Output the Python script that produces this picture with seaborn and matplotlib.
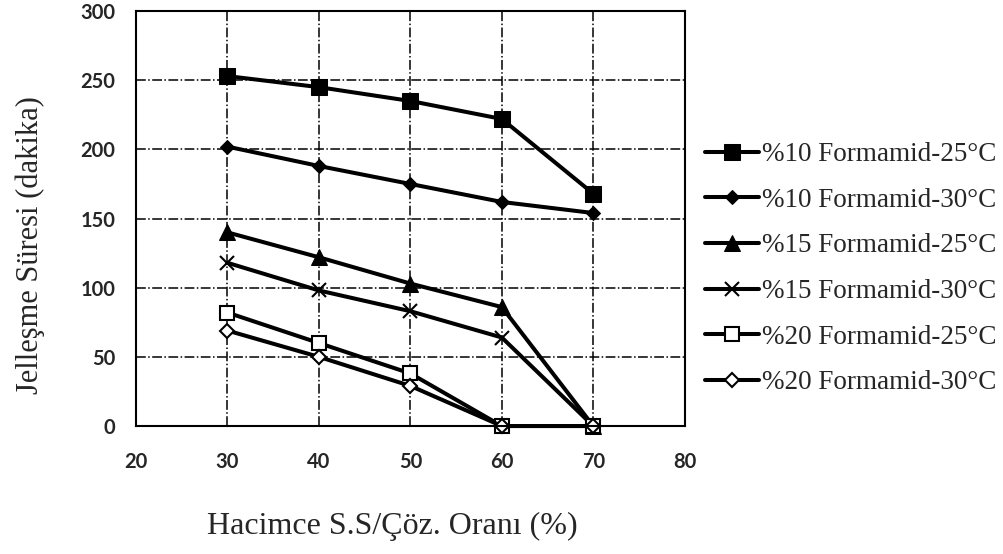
import matplotlib
matplotlib.use("Agg")
import matplotlib.pyplot as plt
import seaborn as sns
import pandas as pd

x_vals = [30, 40, 50, 60, 70]
s10_25 = [253, 245, 235, 222, 168]
s10_30 = [202, 188, 175, 162, 154]
s15_25 = [140, 122, 103, 86, 0]
s15_30 = [118, 98, 83, 64, 0]
s20_25 = [82, 60, 38, 0, 0]
s20_30 = [69, 50, 29, 0, 0]
labels = ["%10 Formamid-25°C", "%10 Formamid-30°C", "%15 Formamid-25°C",
          "%15 Formamid-30°C", "%20 Formamid-25°C", "%20 Formamid-30°C"]
series = [s10_25, s10_30, s15_25, s15_30, s20_25, s20_30]
x_ticks = [20, 30, 40, 50, 60, 70, 80]
y_ticks = [0, 50, 100, 150, 200, 250, 300]

sns.set_style("white")
fig = plt.figure(figsize=(10.04, 5.54), dpi=100)
ax = fig.add_axes([0.1355, 0.231, 0.5465, 0.749])

styles = [
    dict(marker="s", markersize=11, markerfacecolor="black", markeredgecolor="black"),
    dict(marker="D", markersize=7.5, markerfacecolor="black", markeredgecolor="black"),
    dict(marker="^", markersize=11, markerfacecolor="black", markeredgecolor="black"),
    dict(marker="x", markersize=10, markeredgewidth=1.5, markeredgecolor="black"),
    dict(marker="s", markersize=10, markerfacecolor="white", markeredgecolor="black", markeredgewidth=1.5),
    dict(marker="D", markersize=7, markerfacecolor="white", markeredgecolor="black", markeredgewidth=1.5),
]

for vals, lab, st in zip(series, labels, styles):
    df = pd.DataFrame({"x": x_vals, "y": vals})
    sns.lineplot(data=df, x="x", y="y", ax=ax, color="black", linewidth=2.9,
                 label=lab, clip_on=False, **st)

ax.set_xlim(20, 80)
ax.set_ylim(0, 300)
ax.set_xticks(x_ticks)
ax.set_yticks(y_ticks)
ax.grid(True, color="black", linestyle="-.", linewidth=1.1)
ax.set_axisbelow(True)
for sp in ax.spines.values():
    sp.set_visible(True)
    sp.set_color("black")
    sp.set_linewidth(1.5)
ax.tick_params(axis="both", length=0, labelsize=14.5)
ax.tick_params(axis="x", pad=19)
ax.tick_params(axis="y", pad=15)
for t in ax.get_xticklabels() + ax.get_yticklabels():
    t.set_fontfamily("Lato")
    t.set_fontweight("bold")
ax.set_xlabel("")
ax.set_ylabel("")

fig.text(0.391, 0.049, "Hacimce S.S/Çöz. Oranı (%)", family="Liberation Serif",
         fontsize=23, ha="center", va="center")
fig.text(0.030, 0.557, "Jelleşme Süresi (dakika)", family="Liberation Serif",
         fontsize=22, ha="center", va="center", rotation=90)

leg = ax.legend(loc="center left", bbox_to_anchor=(1.0, 0.379), frameon=False,
                prop={"family": "Liberation Serif", "size": 19.5},
                handlelength=2.0, handletextpad=0.1, labelspacing=0.76,
                borderaxespad=0.35)

fig.savefig("out.png", dpi=100)
